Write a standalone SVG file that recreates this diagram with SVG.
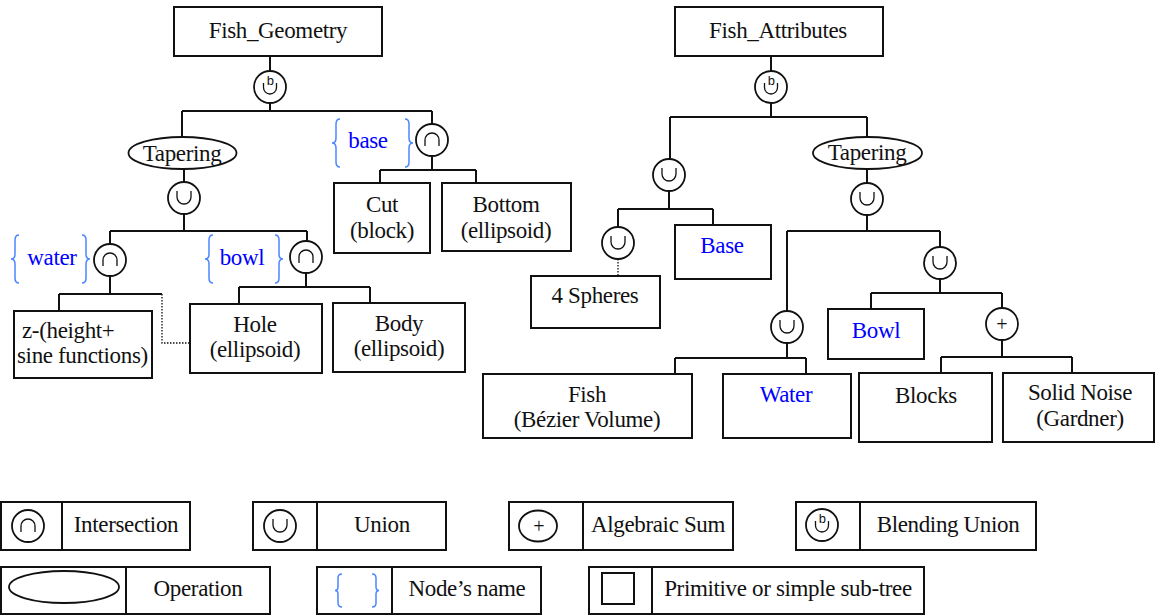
<svg xmlns="http://www.w3.org/2000/svg" xmlns:xlink="http://www.w3.org/1999/xlink" width="1156" height="615" viewBox="0 0 1156 615">
<style>
.box{fill:#fff;stroke:#111;stroke-width:2}
.op{fill:#fff;stroke:#111;stroke-width:1.8}
.sym{fill:none;stroke:#111;stroke-width:1.3}
.ln{fill:none;stroke:#111;stroke-width:2}
.dot{fill:none;stroke:#111;stroke-width:1.3;stroke-dasharray:1.5 1.5}
.t{font-family:"Liberation Serif","Times New Roman",Times,serif;font-size:23px;letter-spacing:-0.35px;fill:#111;text-anchor:middle}
.st{text-anchor:start}
.blue{fill:#0000ff}
.brace{fill:none;stroke:#4a86ff;stroke-width:1.5}
.b{font-family:"Liberation Mono","Courier New",monospace;font-size:13px;fill:#111;text-anchor:middle}
.plus{font-family:"Liberation Serif","Times New Roman",serif;font-size:20px;fill:#111;text-anchor:middle}
</style>
<defs>
<g id="cup"><circle r="16" class="op"/><path d="M-7 -7V-1A7 7 0 0 0 7 -1V-7" class="sym"/></g>
<g id="cap"><circle r="16" class="op"/><path d="M-7 6V0A7 7 0 0 1 7 0V6" class="sym"/></g>
<g id="blendShape"><circle r="16" class="op"/><path d="M-6.5 -4V0.5A6.5 6.5 0 0 0 6.5 0.5V-4" class="sym"/></g>
<path id="lbrace" d="M4 0Q0 0 0 5V19Q0 24 -4 24Q0 24 0 29V43Q0 48 4 48" class="brace"/>
<path id="rbrace" d="M-4 0Q0 0 0 5V19Q0 24 4 24Q0 24 0 29V43Q0 48 -4 48" class="brace"/>
</defs>

<g id="connectors">
<path class="ln" d="M270 56V72M270 103V111M182 111H432M182 111V137M432 111V124"/>
<path class="ln" d="M184 169V182M184 214V231M110 231H307M110 231V244M307 231V241"/>
<path class="ln" d="M110 276V294M59 294H162M59 294V311"/>
<path class="dot" d="M162 294V343H190"/>
<path class="ln" d="M306 273V287M239 287H370M239 287V304M370 287V303"/>
<path class="ln" d="M432 156V170M380 170H476M380 170V183M476 170V183"/>
<path class="ln" d="M771 56V71M771 103V117M670 117H867M670 117V159M867 117V137"/>
<path class="ln" d="M669 191V209M618 209H713M618 209V227M713 209V225"/>
<path class="dot" d="M618 259V276"/>
<path class="ln" d="M867 169V183M867 215V231M787 231H940M787 231V311M940 231V247"/>
<path class="ln" d="M787 343V358M675 358H806M675 358V374M806 358V374"/>
<path class="ln" d="M940 279V293M871 293H1002M871 293V309M1002 293V308"/>
<path class="ln" d="M1002 340V357M941 357H1072M941 357V373M1072 357V373"/>
</g>

<g id="fish-geometry"><rect class="box" x="174" y="7" width="208" height="49"/><text class="t" x="278" y="38">Fish_Geometry</text></g>
<g id="geo-blend"><use xlink:href="#blendShape" x="270" y="87"/><text class="b" x="270.5" y="85">b</text></g>
<g id="geo-tapering"><ellipse class="op" cx="182.5" cy="153" rx="54" ry="16"/><text class="t" x="182" y="161">Tapering</text></g>
<g id="geo-base"><use xlink:href="#cap" x="432" y="140"/><use xlink:href="#lbrace" x="336" y="119"/><use xlink:href="#rbrace" x="409" y="119"/><text class="t blue" x="368" y="148">base</text></g>
<g id="geo-union"><use xlink:href="#cup" x="184" y="198"/></g>
<g id="geo-water"><use xlink:href="#cap" x="110" y="260"/><use xlink:href="#lbrace" x="15" y="235"/><use xlink:href="#rbrace" x="86" y="235"/><text class="t blue" x="52" y="265">water</text></g>
<g id="geo-bowl"><use xlink:href="#cap" x="306" y="257"/><use xlink:href="#lbrace" x="209" y="235"/><use xlink:href="#rbrace" x="279" y="235"/><text class="t blue" x="242" y="265">bowl</text></g>
<g id="geo-z"><rect class="box" x="14" y="311" width="138" height="67"/><text class="t st" x="22" y="338">z-(height+</text><text class="t st" x="17" y="363">sine functions)</text></g>
<g id="geo-hole"><rect class="box" x="190" y="304" width="132" height="69"/><text class="t" x="255" y="332">Hole</text><text class="t" x="255" y="357">(ellipsoid)</text></g>
<g id="geo-body"><rect class="box" x="333" y="303" width="132" height="69"/><text class="t" x="399" y="331">Body</text><text class="t" x="399" y="356">(ellipsoid)</text></g>
<g id="geo-cut"><rect class="box" x="334" y="183" width="96" height="70"/><text class="t" x="382" y="212">Cut</text><text class="t" x="382" y="238">(block)</text></g>
<g id="geo-bottom"><rect class="box" x="442" y="183" width="129" height="68"/><text class="t" x="506" y="212">Bottom</text><text class="t" x="506" y="238">(ellipsoid)</text></g>

<g id="fish-attributes"><rect class="box" x="675" y="7" width="208" height="49"/><text class="t" x="778" y="38">Fish_Attributes</text></g>
<g id="att-blend"><use xlink:href="#blendShape" x="771" y="87"/><text class="b" x="771.5" y="85">b</text></g>
<g id="att-union1"><use xlink:href="#cup" x="669" y="175"/></g>
<g id="att-tapering"><ellipse class="op" cx="867.5" cy="153" rx="54.5" ry="16"/><text class="t" x="867" y="160">Tapering</text></g>
<g id="att-union-spheres"><use xlink:href="#cup" x="618" y="243"/></g>
<g id="att-spheres"><rect class="box" x="531" y="276" width="129" height="52"/><text class="t" x="595" y="303">4 Spheres</text></g>
<g id="att-base"><rect class="box" x="675" y="225" width="96" height="54"/><text class="t blue" x="722" y="253">Base</text></g>
<g id="att-union2"><use xlink:href="#cup" x="867" y="199"/></g>
<g id="att-union3"><use xlink:href="#cup" x="787" y="327"/></g>
<g id="att-union4"><use xlink:href="#cup" x="940" y="263"/></g>
<g id="att-bowl"><rect class="box" x="828" y="309" width="96" height="50"/><text class="t blue" x="876" y="338">Bowl</text></g>
<g id="att-sum"><circle class="op" cx="1002" cy="324" r="16"/><text class="plus" x="1002" y="331">+</text></g>
<g id="att-fish"><rect class="box" x="483" y="374" width="209" height="64"/><text class="t" x="587" y="402">Fish</text><text class="t" x="587" y="427">(Bézier Volume)</text></g>
<g id="att-water"><rect class="box" x="723" y="374" width="128" height="64"/><text class="t blue" x="786" y="402">Water</text></g>
<g id="att-blocks"><rect class="box" x="859" y="373" width="133" height="69"/><text class="t" x="926" y="403">Blocks</text></g>
<g id="att-noise"><rect class="box" x="1003" y="373" width="151" height="69"/><text class="t" x="1080" y="400">Solid Noise</text><text class="t" x="1080" y="426">(Gardner)</text></g>

<g id="legend-intersection"><rect class="box" x="1" y="502" width="189" height="48"/><path class="ln" d="M62 502V550"/><use xlink:href="#cap" x="28" y="526"/><text class="t" x="126" y="532">Intersection</text></g>
<g id="legend-union"><rect class="box" x="253" y="502" width="193" height="48"/><path class="ln" d="M317 502V550"/><use xlink:href="#cup" x="280" y="526"/><text class="t" x="382" y="532">Union</text></g>
<g id="legend-sum"><rect class="box" x="509" y="502" width="224" height="48"/><path class="ln" d="M583 502V550"/><ellipse class="op" cx="538" cy="526" rx="19" ry="15.5"/><text class="plus" x="539" y="533">+</text><text class="t" x="658" y="532">Algebraic Sum</text></g>
<g id="legend-blend"><rect class="box" x="796" y="502" width="240" height="48"/><path class="ln" d="M860 502V550"/><use xlink:href="#blendShape" x="822" y="525"/><text class="b" x="822.5" y="523">b</text><text class="t" x="948" y="532">Blending Union</text></g>
<g id="legend-operation"><rect class="box" x="1" y="567" width="269" height="47"/><path class="ln" d="M126 567V614"/><ellipse class="op" cx="64" cy="587" rx="55" ry="16"/><text class="t" x="198" y="596">Operation</text></g>
<g id="legend-name"><rect class="box" x="317" y="567" width="224" height="47"/><path class="ln" d="M392 567V614"/><path class="brace" d="M342 574Q338 574 338 578V587Q338 590.5 335 590.5Q338 590.5 338 594V603Q338 607 342 607"/><path class="brace" d="M372 574Q376 574 376 578V587Q376 590.5 379 590.5Q376 590.5 376 594V603Q376 607 372 607"/><text class="t" x="467" y="596">Node’s name</text></g>
<g id="legend-primitive"><rect class="box" x="589" y="567" width="335" height="47"/><path class="ln" d="M652 567V614"/><rect class="box" x="602" y="573" width="32" height="31"/><text class="t" x="788" y="596">Primitive or simple sub-tree</text></g>
</svg>
